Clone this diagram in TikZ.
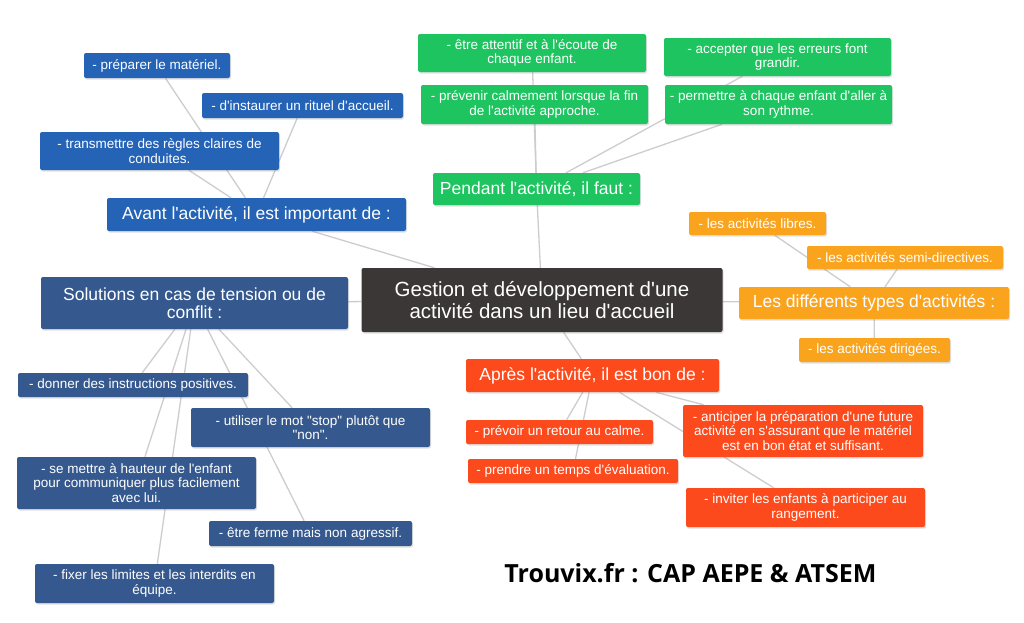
\documentclass[tikz,border=0pt]{standalone}
\usepackage{fontspec}
\setmainfont{Liberation Sans}[Ligatures=TeXOff]
\newfontfamily\brandfont{Open Sans}
\usetikzlibrary{shadows,backgrounds}

\definecolor{centregray}{RGB}{59,55,54}
\definecolor{avantblue}{RGB}{36,99,182}
\definecolor{pendantgreen}{RGB}{30,196,96}
\definecolor{typesorange}{RGB}{250,164,30}
\definecolor{apresred}{RGB}{252,74,28}
\definecolor{conflitblue}{RGB}{53,89,142}
\definecolor{linegray}{RGB}{205,205,205}

\begin{document}
\begin{tikzpicture}[x=1pt,y=-1pt,
  box/.style={rectangle,rounded corners=2pt,text=white,align=center,inner sep=0pt,
    drop shadow={shadow xshift=1pt,shadow yshift=-1.5pt,opacity=0.25}},
  leaf/.style={box,font=\fontsize{13.5}{14.5}\selectfont},
  head/.style={box,font=\fontsize{17.5}{18.5}\selectfont},
  sz/.style 2 args={minimum width=#1pt,minimum height=#2pt},
  link/.style={draw=linegray,line width=1.3pt}]
%\tikzstyle{every node}=[draw=none]
  \useasboundingbox (0,0) rectangle (1024,622);

  \node[box,fill=centregray,sz={361}{64},font=\fontsize{20.5}{22}\selectfont]
        (main) at (542,300) {Gestion et développement d'une\\activité dans un lieu d'accueil};

  % avant
  \node[head,fill=avantblue,sz={299}{33}] (avant)  at (256.5,214.5) {Avant l'activité, il est important de :};
  \node[leaf,fill=avantblue,sz={146}{25}] (prep)   at (157,65.5)    {- préparer le matériel.};
  \node[leaf,fill=avantblue,sz={201}{25}] (rituel) at (302.5,105.5) {- d'instaurer un rituel d'accueil.};
  \node[leaf,fill=avantblue,sz={239}{38}] (regles) at (159.5,151)   {- transmettre des règles claires de\\conduites.};

  % pendant
  \node[head,fill=pendantgreen,sz={207}{32}] (pendant)   at (536.5,189)   {Pendant l'activité, il faut :};
  \node[leaf,fill=pendantgreen,sz={228}{38}] (attentif)  at (532,53)      {- être attentif et à l'écoute de\\chaque enfant.};
  \node[leaf,fill=pendantgreen,sz={227}{39}] (prevenir)  at (534.5,104.5) {- prévenir calmement lorsque la fin\\de l'activité approche.};
  \node[leaf,fill=pendantgreen,sz={227}{38}] (erreurs)   at (777.5,57)    {- accepter que les erreurs font\\grandir.};
  \node[leaf,fill=pendantgreen,sz={227}{39}] (rythme)    at (778.5,104.5) {- permettre à chaque enfant d'aller à\\son rythme.};

  % types
  \node[head,fill=typesorange,sz={270}{32}] (types)    at (874,303)     {Les différents types d'activités :};
  \node[leaf,fill=typesorange,sz={137}{23}] (libres)   at (757.5,223.5) {- les activités libres.};
  \node[leaf,fill=typesorange,sz={196}{23}] (semi)     at (905,257.5)   {- les activités semi-directives.};
  \node[leaf,fill=typesorange,sz={151}{24}] (dirigees) at (874.5,350)   {- les activités dirigées.};

  % solutions
  \node[head,fill=conflitblue,sz={307}{52}] (conflit) at (194.5,303)   {Solutions en cas de tension ou de\\conflit :};
  \node[leaf,fill=conflitblue,sz={230}{24}] (donner)  at (133,385)     {- donner des instructions positives.};
  \node[leaf,fill=conflitblue,sz={239}{39}] (stop)    at (310.5,427.5) {- utiliser le mot "stop" plutôt que\\"non".};
  \node[leaf,fill=conflitblue,sz={239}{52}] (hauteur) at (136.5,483)   {- se mettre à hauteur de l'enfant\\pour communiquer plus facilement\\avec lui.};
  \node[leaf,fill=conflitblue,sz={203}{25}] (ferme)   at (310.5,533.5) {- être ferme mais non agressif.};
  \node[leaf,fill=conflitblue,sz={239}{39}] (limites) at (154.5,583.5) {- fixer les limites et les interdits en\\équipe.};

  % apres
  \node[head,fill=apresred,sz={253}{33}] (apres)      at (592.5,375.5) {Après l'activité, il est bon de :};
  \node[leaf,fill=apresred,sz={187}{24}] (calme)      at (559.5,432)   {- prévoir un retour au calme.};
  \node[leaf,fill=apresred,sz={210}{24}] (evaluation) at (573,471)     {- prendre un temps d'évaluation.};
  \node[leaf,fill=apresred,sz={240}{52}] (anticiper)  at (803,431)     {- anticiper la préparation d'une future\\activité en s'assurant que le matériel\\est en bon état et suffisant.};
  \node[leaf,fill=apresred,sz={239}{39}] (rangement)  at (805.5,507.5) {- inviter les enfants à participer au\\rangement.};

  \node[font=\brandfont\bfseries\fontsize{25}{27}\selectfont] (brand) at (690.5,573) {Trouvix.fr : CAP AEPE \& ATSEM};

  \begin{pgfonlayer}{background}
    \fill[white] (0,0) rectangle (1024,622);
    \path[link] (main) edge (avant)
                       edge (pendant)
                       edge (types)
                       edge (conflit)
                       edge (apres)
                (avant) edge (prep)
                        edge (rituel)
                        edge (regles)
                (pendant) edge (attentif)
                          edge (prevenir)
                          edge (erreurs)
                          edge (rythme)
                (types) edge (libres)
                        edge (semi)
                        edge (dirigees)
                (conflit) edge (donner)
                          edge (stop)
                          edge (hauteur)
                          edge (ferme)
                          edge (limites)
                (apres) edge (calme)
                        edge (evaluation)
                        edge (anticiper)
                        edge (rangement);
  \end{pgfonlayer}
\end{tikzpicture}
\end{document}
